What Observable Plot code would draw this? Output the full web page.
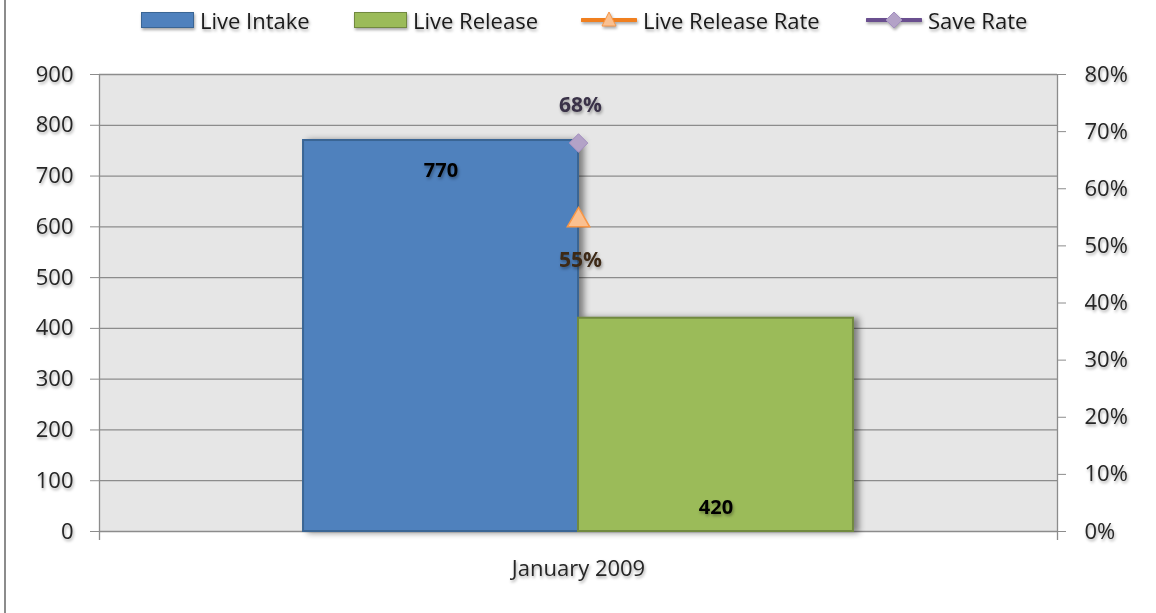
<!DOCTYPE html>
<html>
<head>
<meta charset="utf-8">
<script src="https://cdn.jsdelivr.net/npm/d3@7"></script>
<script src="https://cdn.jsdelivr.net/npm/@observablehq/plot@0.6"></script>
<style>
  html, body { margin: 0; padding: 0; background: #fff; }
  body { width: 1156px; height: 613px; position: relative; overflow: hidden; font-family: "Open Sans", Lato, sans-serif; }
  #frameline { position: absolute; left: 4px; top: 0; width: 2px; height: 613px; background: #8c8c8c; }
  #legend { position: relative; height: 40px; }
  .item { position: absolute; top: 0; height: 40px; display: flex; align-items: center; font-size: 22px; color: #1a1a1a;
          filter: drop-shadow(1.5px 2px 1.5px rgba(0,0,0,0.35)); white-space: nowrap; }
  .item svg { margin-right: 6px; }
  #chart svg text { filter: drop-shadow(1.5px 2px 1.5px rgba(0,0,0,0.35)); }
  .barshadow { filter: drop-shadow(5px 1px 3px rgba(0,0,0,0.45)); }
</style>
</head>
<body>
<div id="frameline"></div>
<div id="legend"></div>
<div id="chart"></div>
<script>
// ---- data ----
const category = "January 2009";
const barSeries = ["Live Intake", "Live Release"];
const barValues = [770, 420];
const barFills = ["#4f81bd", "#9bbb59"];
const barStrokes = ["#3a6594", "#71893f"];
const rateSeries = ["Live Release Rate", "Save Rate"];
const rateValues = [0.55, 0.68];
const rateLabels = ["55%", "68%"];
const leftTicks = [0, 100, 200, 300, 400, 500, 600, 700, 800, 900];
const rightTicks = [0, 0.1, 0.2, 0.3, 0.4, 0.5, 0.6, 0.7, 0.8];

const yMax = 900, rMax = 0.8;
const toLeft = r => r * yMax / rMax;

const bars = barSeries.map((s, i) => ({series: s, value: barValues[i], idx: i, fill: barFills[i], stroke: barStrokes[i]}));
const rates = rateSeries.map((s, i) => ({series: s, value: rateValues[i], label: rateLabels[i]}));
const xDomain = [-0.742, barSeries.length + 0.742];

// ---- legend ----
const legend = document.getElementById("legend");
const legendItems = [
  {label: barSeries[0], left: 141, kind: "bar", fill: barFills[0], stroke: barStrokes[0]},
  {label: barSeries[1], left: 354, kind: "bar", fill: barFills[1], stroke: barStrokes[1]},
  {label: rateSeries[0], left: 581, kind: "tri", line: "#f07f1f", fill: "#fac090", stroke: "#f79646"},
  {label: rateSeries[1], left: 866, kind: "dia", line: "#6a4f8f", fill: "#b3a2c7", stroke: "#a38fc0"}
];
for (const it of legendItems) {
  const d = document.createElement("div");
  d.className = "item";
  d.style.left = it.left + "px";
  let sw;
  if (it.kind === "bar") {
    sw = `<svg width="53" height="16"><rect x="0.5" y="0.5" width="52" height="15" fill="${it.fill}" stroke="${it.stroke}"/></svg>`;
  } else if (it.kind === "tri") {
    sw = `<svg width="56" height="20"><line x1="1" y1="10" x2="55" y2="10" stroke="${it.line}" stroke-width="4" stroke-linecap="round"/>
          <path d="M28,2 L35,16 L21,16 Z" fill="${it.fill}" stroke="${it.stroke}" stroke-width="1"/></svg>`;
  } else {
    sw = `<svg width="56" height="20"><line x1="1" y1="10" x2="55" y2="10" stroke="${it.line}" stroke-width="4" stroke-linecap="round"/>
          <path d="M28,2 L36,10 L28,18 L20,10 Z" fill="${it.fill}" stroke="${it.stroke}" stroke-width="1"/></svg>`;
  }
  d.innerHTML = sw + `<span>${it.label}</span>`;
  legend.appendChild(d);
}

// ---- chart ----
const textColor = "#262626";
const fs = 22;
const chart = Plot.plot({
  width: 1156,
  height: 573,
  marginTop: 34,
  marginBottom: 82,
  marginLeft: 99,
  marginRight: 99,
  style: {fontFamily: "'Open Sans', Lato, sans-serif", fontSize: fs + "px", color: textColor, background: "transparent", overflow: "visible"},
  x: {domain: xDomain, axis: null},
  y: {domain: [0, yMax], axis: null},
  marks: [
    Plot.frame({fill: "#e6e6e6", stroke: null}),
    Plot.gridY(leftTicks, {stroke: "#8c8c8c", strokeOpacity: 1, strokeWidth: 1.3}),
    Plot.rect(bars, {x1: "idx", x2: d => d.idx + 1, y1: 0, y2: "value", fill: "fill", stroke: "stroke", strokeWidth: 2, className: "barshadow"}),
    Plot.ruleX(xDomain, {stroke: "#8c8c8c", strokeWidth: 1.3, insetBottom: -9}),
    Plot.text([bars[0]], {x: d => d.idx + 0.5, y: "value", text: d => String(d.value), dy: 30, fontWeight: "bold", fill: "#000", fontSize: 20}),
    Plot.text([bars[1]], {x: d => d.idx + 0.5, y: 0, text: d => String(d.value), dy: -24, fontWeight: "bold", fill: "#000", fontSize: 20}),
    Plot.dot([rates[1]], {x: 1, y: d => toLeft(d.value), symbol: "diamond2", r: 8.4, fill: "#b3a2c7", stroke: "#a38fc0", strokeWidth: 1}),
    Plot.dot([rates[0]], {x: 1, y: d => toLeft(d.value), dy: 3, symbol: "triangle", r: 8.3, fill: "#fac090", stroke: "#f79646", strokeWidth: 1.5}),
    Plot.text([rates[1]], {x: 1, y: d => toLeft(d.value), text: "label", dy: -38, dx: 2, fill: "#3a3248", fontWeight: "bold", fontSize: 21}),
    Plot.text([rates[0]], {x: 1, y: d => toLeft(d.value), text: "label", dy: 43, dx: 2, fill: "#3d2916", fontWeight: "bold", fontSize: 21}),
    Plot.axisY(leftTicks, {anchor: "left", label: null, tickSize: 9, tickPadding: 17, stroke: "#8c8c8c", fill: textColor, fontSize: fs}),
    Plot.axisY(rightTicks.map(toLeft), {anchor: "right", label: null, tickSize: 8, tickPadding: 19, stroke: "#8c8c8c", fill: textColor, fontSize: fs,
      tickFormat: v => Math.round(v / yMax * rMax * 100) + "%"}),
    Plot.axisX([1], {anchor: "bottom", label: null, tickSize: 0, tickPadding: 29, fill: textColor, fontSize: fs, tickFormat: () => category})
  ]
});
document.getElementById("chart").appendChild(chart);
</script>
</body>
</html>
